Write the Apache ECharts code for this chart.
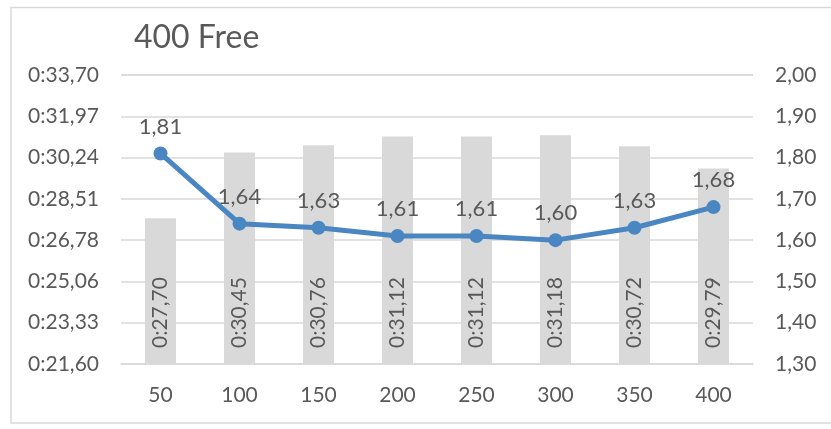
<!DOCTYPE html>
<html>
<head>
<meta charset="utf-8">
<script src="https://cdn.jsdelivr.net/npm/echarts@6/dist/echarts.min.js"></script>
<style>
html,body{margin:0;padding:0;background:#fff;}
#chart{width:831px;height:429px;}
</style>
</head>
<body>
<div id="chart"></div>
<script>
const categories = ['50','100','150','200','250','300','350','400'];
const splitTimes = [27.70, 30.45, 30.76, 31.12, 31.12, 31.18, 30.72, 29.79];
const strokeValues = [1.81, 1.64, 1.63, 1.61, 1.61, 1.60, 1.63, 1.68];
const leftTickLabels = ['0:21,60','0:23,33','0:25,06','0:26,78','0:28,51','0:30,24','0:31,97','0:33,70'];
const rightTickLabels = ['1,30','1,40','1,50','1,60','1,70','1,80','1,90','2,00'];
const leftMin = 21.6, leftMax = 33.7;
const rightMin = 1.3, rightMax = 2.0;
const titleText = '400 Free';

const FONT = 'Lato';
const TXT = '#595959';
const fmtTime = v => '0:' + Number(v).toFixed(2).replace('.', ',');
const fmtNum = v => Number(v).toFixed(2).replace('.', ',');
const leftInterval = (leftMax - leftMin) / (leftTickLabels.length - 1);
const rightInterval = (rightMax - rightMin) / (rightTickLabels.length - 1);

const chart = echarts.init(document.getElementById('chart'));
chart.setOption({
  animation: false,
  textStyle: { fontFamily: FONT },
  graphic: [{
    type: 'rect',
    shape: { x: 11, y: 7.5, width: 840, height: 415.5 },
    style: { fill: 'none', stroke: '#d9d9d9', lineWidth: 1.5 },
    silent: true
  }],
  title: {
    text: titleText,
    left: 129,
    top: 17,
    textStyle: { fontFamily: FONT, fontSize: 32, fontWeight: 'normal', color: TXT }
  },
  grid: { left: 121, right: 78, top: 75, bottom: 65, containLabel: false },
  xAxis: {
    type: 'category',
    data: categories,
    axisLine: { show: true, lineStyle: { color: '#d9d9d9', width: 1.5 } },
    axisTick: { show: false },
    axisLabel: { color: TXT, fontSize: 21, fontFamily: FONT, margin: 21 }
  },
  yAxis: [{
    type: 'value',
    min: leftMin,
    max: leftMax,
    interval: leftInterval,
    axisLine: { show: false },
    axisTick: { show: false },
    splitLine: { show: true, lineStyle: { color: '#d9d9d9', width: 1.5 } },
    axisLabel: {
      color: TXT, fontSize: 21, fontFamily: FONT, margin: 22,
      formatter: v => leftTickLabels[Math.round((v - leftMin) / leftInterval)] || ''
    }
  }, {
    type: 'value',
    min: rightMin,
    max: rightMax,
    interval: rightInterval,
    axisLine: { show: false },
    axisTick: { show: false },
    splitLine: { show: false },
    axisLabel: {
      color: TXT, fontSize: 21, fontFamily: FONT, margin: 22,
      formatter: v => rightTickLabels[Math.round((v - rightMin) / rightInterval)] || ''
    }
  }],
  series: [{
    type: 'bar',
    yAxisIndex: 0,
    data: splitTimes,
    barWidth: 31,
    itemStyle: { color: '#d9d9d9' },
    label: {
      show: true,
      position: 'insideBottom',
      rotate: 90,
      align: 'left',
      verticalAlign: 'middle',
      distance: 16,
      color: TXT,
      fontSize: 21,
      fontFamily: FONT,
      formatter: p => fmtTime(p.value)
    }
  }, {
    type: 'line',
    yAxisIndex: 1,
    data: strokeValues,
    symbol: 'circle',
    symbolSize: 14,
    lineStyle: { color: '#4a86c2', width: 5 },
    itemStyle: { color: '#4a86c2' },
    label: {
      show: true,
      position: 'top',
      distance: 9,
      color: TXT,
      fontSize: 22,
      fontFamily: FONT,
      formatter: p => fmtNum(p.value)
    },
    z: 5
  }]
});
</script>
</body>
</html>
